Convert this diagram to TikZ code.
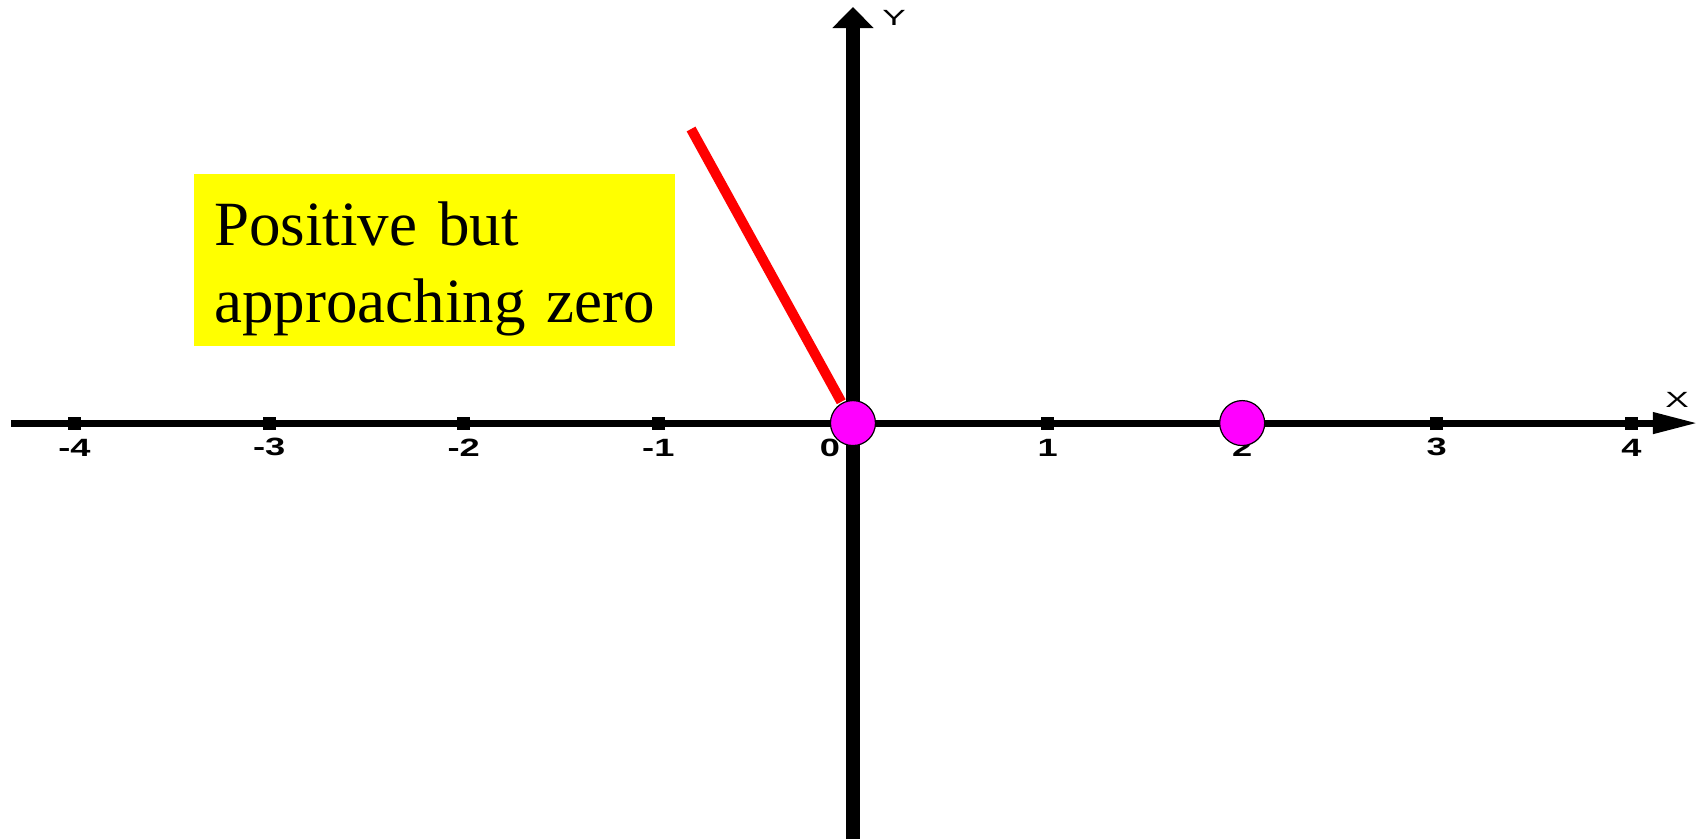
\documentclass[tikz,border=0pt]{standalone}
\usepackage{fontspec}
\setmainfont{Liberation Serif}
\setsansfont{Liberation Sans}
\usetikzlibrary{arrows.meta}
\definecolor{notebg}{RGB}{255,255,0}
\definecolor{dotfill}{RGB}{255,0,255}

\tikzset{
  ticklabel/.style={font=\sffamily\bfseries\fontsize{25}{25}\selectfont, inner sep=0pt},
  axisname/.style={font=\sffamily\fontsize{22}{22}\selectfont, inner sep=0pt},
  dot/.style={circle, draw=black, line width=1.2pt, fill=dotfill, minimum size=45pt, inner sep=0pt},
}

\begin{document}
\begin{tikzpicture}[x=194.6pt,y=194.6pt]
\useasboundingbox (-4.383,-2.138) rectangle (4.373,2.174);

% axes
\draw[line width=7pt, -{Triangle[length=45pt,width=20pt]}] (-4.326,0) -- (4.342,0);
\draw[line width=14pt, -{Triangle[length=21pt,width=40pt]}] (0,-2.138) -- (0,2.138);
\node[axisname] (xname) at (4.235,0.118) {\scalebox{1.6}[1]{X}};
\node[axisname] (yname) at (0.211,2.081) {\scalebox{1.6}[1]{Y}};

\foreach \x in {-4,-3,-2,-1,1,2,3,4} {
    \fill (\x,0) +(-6.5pt,-6.5pt) rectangle +(6.5pt,6.5pt);
    \node[ticklabel] at (\x,-0.125) {\scalebox{1.45}[1]{\x}};
}
\node[ticklabel] (zerolabel) at (-0.118,-0.125) {\scalebox{1.45}[1]{0}};

% callout
\node[fill=notebg, anchor=north west, text width=441pt, inner xsep=20pt, inner ysep=0pt,
      align=left, font=\fontsize{63}{77}\selectfont] (note) at (-3.386,1.280)
      {\rule{0pt}{71pt}Positive but\\approaching zero\rule[-24pt]{0pt}{0pt}};

\node[dot] (zero) at (0,0) {};
\node[dot] (two) at (2,0) {};

\coordinate (tail) at (-0.832,1.511);
\draw[red, line width=10pt, shorten >=1.2pt] (tail) -- (zero);
\end{tikzpicture}
\end{document}
